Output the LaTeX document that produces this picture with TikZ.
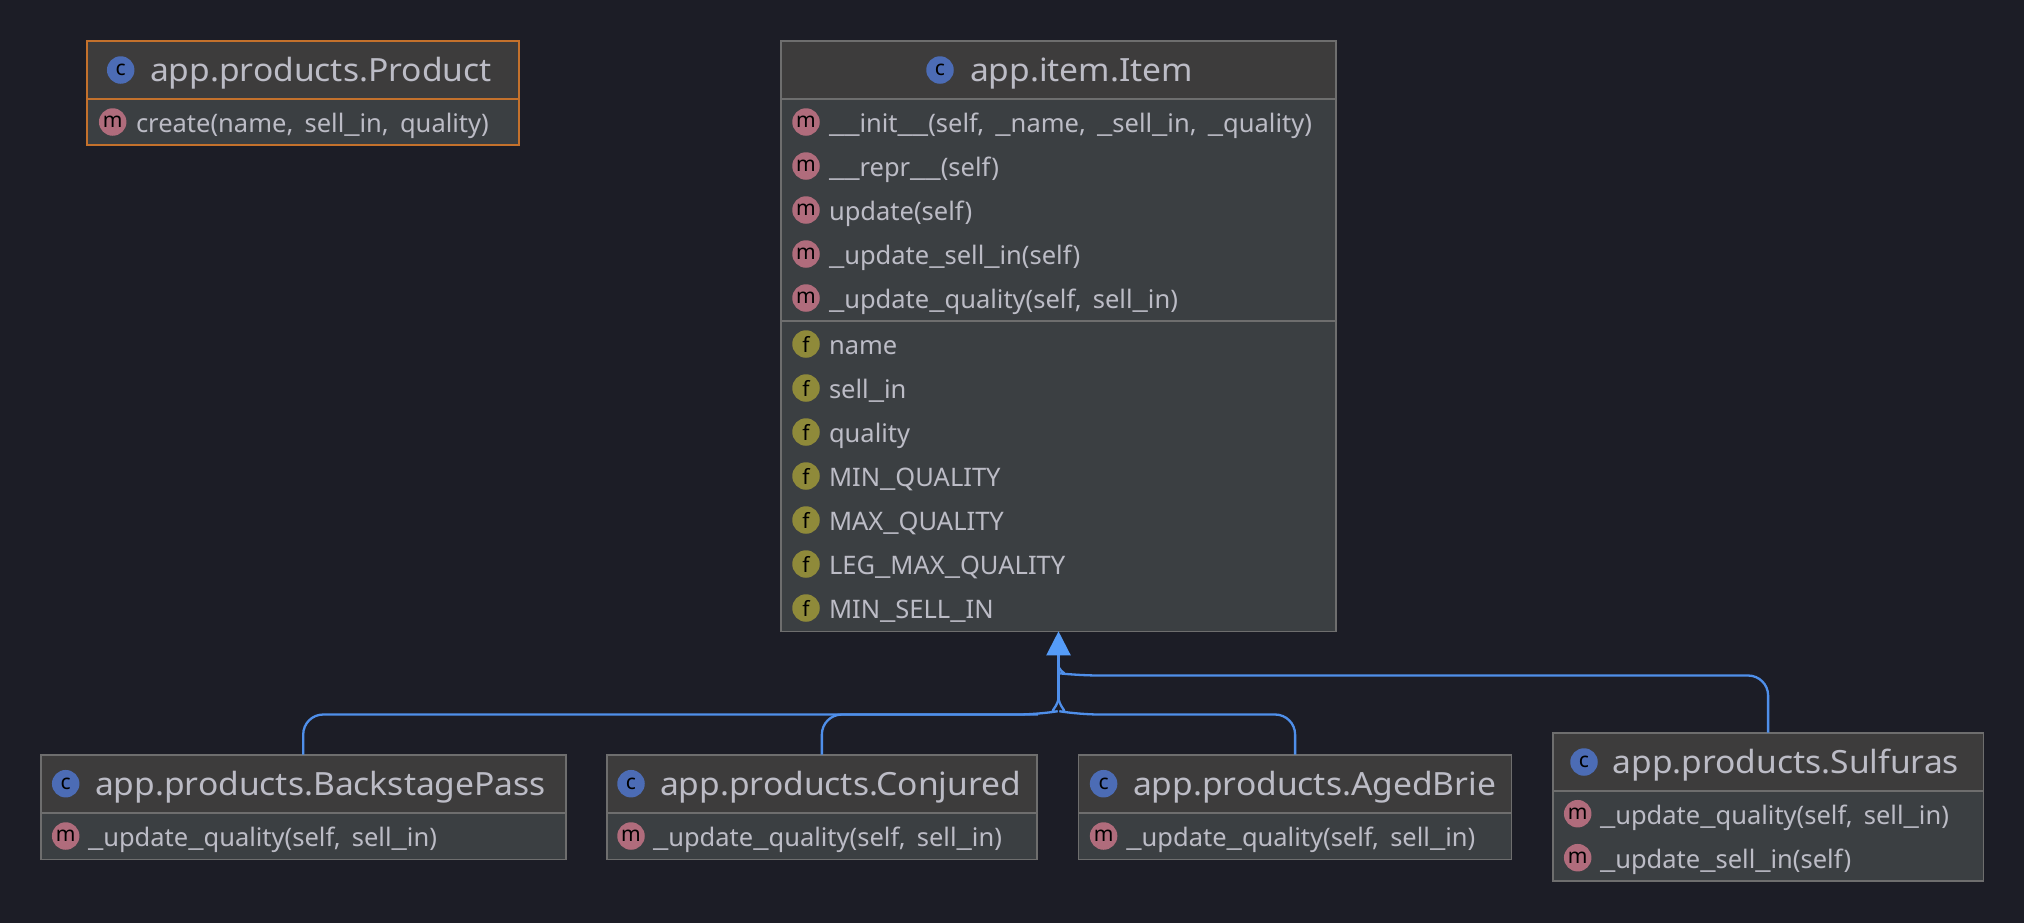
\documentclass[tikz,border=0pt]{standalone}
\usepackage{graphicx}
\usepackage{fontspec}
\setmainfont[WordSpace=1.7]{Noto Sans}
\newfontfamily\titlefont[FakeStretch=1.05]{Noto Sans}
\usetikzlibrary{arrows.meta}
\definecolor{canvas}{HTML}{1C1D26}
\definecolor{headfill}{HTML}{3D3C3C}
\definecolor{bodyfill}{HTML}{3B3F42}
\definecolor{boxline}{HTML}{6E6E6E}
\definecolor{pickline}{HTML}{C4712C}
\definecolor{wire}{HTML}{4F8FEA}
\definecolor{wiretip}{HTML}{559CF8}
\definecolor{label}{HTML}{BCBCC6}
\definecolor{classdot}{HTML}{4C6CB5}
\definecolor{methoddot}{HTML}{B06C7C}
\definecolor{fielddot}{HTML}{8F8A3A}
\newcommand\usc{\scalebox{1.35}[1]{\_}}
\begin{document}
\begin{tikzpicture}[x=1pt,y=1pt]
\tikzstyle{every node}+=[inner sep=0pt,outer sep=0pt]
\tikzstyle{part}=[draw=boxline,line width=1.6pt,anchor=north west]
\tikzstyle{head}=[part,fill=headfill]
\tikzstyle{body}=[part,fill=bodyfill]
\tikzstyle{picked}=[draw=pickline,line width=2pt]
\tikzstyle{title}=[anchor=base west,text=label,font=\titlefont\fontsize{32}{32}\selectfont]
\tikzstyle{member}=[anchor=base west,yshift=-1pt,text=label,font=\fontsize{25.5}{26}\selectfont]
\tikzstyle{dot}=[circle,minimum size=27.5pt,text=black,font=\fontsize{21}{21}\selectfont]
\tikzstyle{cdot}=[dot,fill=classdot]
\tikzstyle{mdot}=[dot,fill=methoddot]
\tikzstyle{fdot}=[dot,fill=fielddot]
\tikzstyle{inherit}=[draw=wire,line width=2.3pt,rounded corners=20pt]
\useasboundingbox (0,0) rectangle (2024,-922);
\fill [canvas] (-3,3) rectangle (2027,-925);
% Product
\node [head,picked,minimum width=431.4pt,minimum height=58pt] (producthead) at (87.3,-40.7) {};
\node [body,picked,minimum width=431.4pt,minimum height=46.6pt] (productbody) at (87.3,-98.7) {};
\node [cdot] (productc) at (120.7,-70) {c};
\node [title] (producttitle) at (150,-81.7) {app.products.Product};
\node [mdot] (productm) at (112.7,-122) {m};
\node [member] (productcreate) at (136,-131.7) {create(name, sell\usc in, quality)};
% Item
\node [head,minimum width=555pt,minimum height=58pt] (itemhead) at (781,-40.7) {};
\node [body,minimum width=555pt,minimum height=222.3pt] (itembody) at (781,-98.7) {};
\node [body,minimum width=555pt,minimum height=310.3pt] (itemfields) at (781,-321) {};
\node [cdot] (itemc) at (940,-70) {c};
\node [title] (itemtitle) at (970,-81.3) {app.item.Item};
\node [mdot] (itemm1) at (806,-122) {m};
\node [member] (iteminit) at (829,-131.7) {\usc\usc init\usc\usc(self, \usc name, \usc sell\usc in, \usc quality)};
\node [mdot] (itemm2) at (806,-166) {m};
\node [member] (itemrepr) at (829,-175.7) {\usc\usc repr\usc\usc(self)};
\node [mdot] (itemm3) at (806,-210) {m};
\node [member] (itemupdate) at (829,-219.7) {update(self)};
\node [mdot] (itemm4) at (806,-254) {m};
\node [member] (itemsellin) at (829,-263.7) {\usc update\usc sell\usc in(self)};
\node [mdot] (itemm5) at (806,-298) {m};
\node [member] (itemquality) at (829,-307.7) {\usc update\usc quality(self, sell\usc in)};
\node [fdot] (itemf1) at (806,-344) {f};
\node [member] (fieldname) at (829,-353.7) {name};
\node [fdot] (itemf2) at (806,-388) {f};
\node [member] (fieldsellin) at (829,-397.7) {sell\usc in};
\node [fdot] (itemf3) at (806,-432) {f};
\node [member] (fieldquality) at (829,-441.7) {quality};
\node [fdot] (itemf4) at (806,-476) {f};
\node [member] (fieldminq) at (829,-485.7) {MIN\usc QUALITY};
\node [fdot] (itemf5) at (806,-520) {f};
\node [member] (fieldmaxq) at (829,-529.7) {MAX\usc QUALITY};
\node [fdot] (itemf6) at (806,-564) {f};
\node [member] (fieldlegq) at (829,-573.7) {LEG\usc MAX\usc QUALITY};
\node [fdot] (itemf7) at (806,-608) {f};
\node [member] (fieldminsell) at (829,-617.7) {MIN\usc SELL\usc IN};
% BackstagePass
\node [head,minimum width=525pt,minimum height=58.3pt] (backstagehead) at (40.7,-754.7) {};
\node [body,minimum width=525pt,minimum height=46.3pt] (backstagebody) at (40.7,-813) {};
\node [cdot] (backstagec) at (65.7,-783.7) {c};
\node [title] (backstagetitle) at (95,-795.4) {app.products.BackstagePass};
\node [mdot] (backstagem) at (65.7,-836) {m};
\node [member] (backstagequality) at (88,-845.7) {\usc update\usc quality(self, sell\usc in)};
% Conjured
\node [head,minimum width=430.3pt,minimum height=58.3pt] (conjuredhead) at (606.7,-754.7) {};
\node [body,minimum width=430.3pt,minimum height=46.3pt] (conjuredbody) at (606.7,-813) {};
\node [cdot] (conjuredc) at (631,-783.7) {c};
\node [title] (conjuredtitle) at (660,-795.4) {app.products.Conjured};
\node [mdot] (conjuredm) at (631,-836) {m};
\node [member] (conjuredquality) at (653,-845.7) {\usc update\usc quality(self, sell\usc in)};
% AgedBrie
\node [head,minimum width=433pt,minimum height=58.3pt] (briehead) at (1078.6,-754.7) {};
\node [body,minimum width=433pt,minimum height=46.3pt] (briebody) at (1078.6,-813) {};
\node [cdot] (briec) at (1103.6,-783.7) {c};
\node [title] (brietitle) at (1133,-795.4) {app.products.AgedBrie};
\node [mdot] (briem) at (1103.6,-836) {m};
\node [member] (briequality) at (1126.4,-845.7) {\usc update\usc quality(self, sell\usc in)};
% Sulfuras
\node [head,minimum width=430.8pt,minimum height=58.3pt] (sulfurashead) at (1552.7,-732.7) {};
\node [body,minimum width=430.8pt,minimum height=90pt] (sulfurasbody) at (1552.7,-791) {};
\node [cdot] (sulfurasc) at (1584,-762) {c};
\node [title] (sulfurastitle) at (1612.5,-773.7) {app.products.Sulfuras};
\node [mdot] (sulfurasm1) at (1577.7,-813.7) {m};
\node [member] (sulfurasquality) at (1600,-823.4) {\usc update\usc quality(self, sell\usc in)};
\node [mdot] (sulfurasm2) at (1577.7,-857.7) {m};
\node [member] (sulfurassellin) at (1600,-867.4) {\usc update\usc sell\usc in(self)};
% inheritance
\coordinate (lowjoin) at (1058.5,-699);
\coordinate (highjoin) at (1058.5,-667);
\coordinate (leftrun) at (1038,-714.5);
\coordinate (rightrun) at (1079,-714.5);
\coordinate (toprun) at (1079,-675.5);
\draw [inherit] (backstagehead.north) |- (leftrun);
\draw [inherit] (conjuredhead.north) |- (leftrun) .. controls (1047,-713) and (1056,-710) .. (lowjoin);
\draw [inherit] (briehead.north) |- (rightrun) .. controls (1070,-713) and (1061,-710) .. (lowjoin);
\draw [inherit] (sulfurashead.north) |- (toprun) .. controls (1070,-674.5) and (1061,-673) .. (highjoin);
\draw [inherit,-{Triangle[length=24pt,width=24pt,color=wiretip]}] (lowjoin) -- (itemfields.south);
\end{tikzpicture}
\end{document}
